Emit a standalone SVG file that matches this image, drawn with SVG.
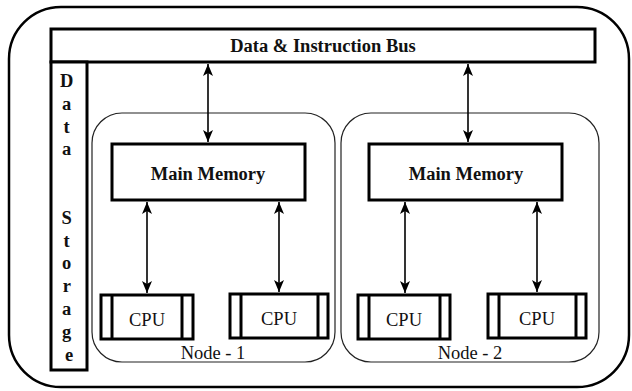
<svg xmlns="http://www.w3.org/2000/svg" width="632" height="391" viewBox="0 0 632 391">
  <style>
    .thick { fill: #fff; stroke: #000; stroke-width: 3; }
    .node { fill: #fff; stroke: #222; stroke-width: 1.2; }
    .band { fill: none; stroke: #000; stroke-width: 3; }
    .lbl { font-family: 'Liberation Serif', 'DejaVu Serif', serif; font-size: 18.5px; fill: #111; text-anchor: middle; }
    .b { font-weight: bold; }
    .link { stroke: #000; stroke-width: 1.6; fill: none; marker-start: url(#ah); marker-end: url(#ah); }
  </style>
  <defs>
    <marker id="ah" viewBox="0 0 12 10" refX="12" refY="5" markerWidth="12" markerHeight="10" markerUnits="userSpaceOnUse" orient="auto-start-reverse">
      <path d="M0,0 L12,5 L0,10 L3,5 Z" fill="#000"/>
    </marker>
  </defs>
  <rect width="632" height="391" fill="#fff"/>

  <!-- enclosing system boundary -->
  <rect id="system" x="9" y="7" width="620" height="380" rx="52" ry="52" fill="none" stroke="#000" stroke-width="2.5"/>

  <g id="bus">
    <rect class="thick" x="51" y="29" width="544" height="33"/>
    <text class="lbl b" x="323" y="52">Data &amp; Instruction Bus</text>
  </g>

  <g id="storage">
    <rect class="thick" x="51" y="62" width="36" height="308"/>
    <text class="lbl b">
      <tspan x="69" y="87">D</tspan>
      <tspan x="69" y="109.8">a</tspan>
      <tspan x="69" y="132.6">t</tspan>
      <tspan x="69" y="155.4">a</tspan>
      <tspan x="69" y="223.8">S</tspan>
      <tspan x="69" y="246.6">t</tspan>
      <tspan x="69" y="269.4">o</tspan>
      <tspan x="69" y="292.2">r</tspan>
      <tspan x="69" y="315">a</tspan>
      <tspan x="69" y="337.8">g</tspan>
      <tspan x="69" y="360.6">e</tspan>
    </text>
  </g>

  <g id="node1">
    <rect class="node" x="92" y="113" width="243" height="249" rx="30" ry="30"/>
    <text class="lbl" x="213" y="359">Node - 1</text>
  </g>
  <g id="node2">
    <rect class="node" x="341" y="113" width="258" height="249" rx="30" ry="30"/>
    <text class="lbl" x="470" y="359">Node - 2</text>
  </g>

  <g id="mem1">
    <rect class="thick" x="112" y="144" width="193" height="56"/>
    <text class="lbl b" x="208" y="180">Main Memory</text>
  </g>
  <g id="mem2">
    <rect class="thick" x="369" y="144" width="193" height="56"/>
    <text class="lbl b" x="466" y="180">Main Memory</text>
  </g>

  <g id="cpu1a">
    <rect class="thick" x="101" y="295" width="92" height="44"/>
    <line class="band" x1="112" y1="295" x2="112" y2="339"/>
    <line class="band" x1="182" y1="295" x2="182" y2="339"/>
    <text class="lbl" x="147" y="326">CPU</text>
  </g>
  <g id="cpu1b">
    <rect class="thick" x="230" y="294" width="98" height="44"/>
    <line class="band" x1="241" y1="294" x2="241" y2="338"/>
    <line class="band" x1="318" y1="294" x2="318" y2="338"/>
    <text class="lbl" x="279" y="325">CPU</text>
  </g>
  <g id="cpu2a">
    <rect class="thick" x="358" y="295" width="92" height="44"/>
    <line class="band" x1="369" y1="295" x2="369" y2="339"/>
    <line class="band" x1="440" y1="295" x2="440" y2="339"/>
    <text class="lbl" x="404" y="326">CPU</text>
  </g>
  <g id="cpu2b">
    <rect class="thick" x="488" y="294" width="98" height="44"/>
    <line class="band" x1="499" y1="294" x2="499" y2="338"/>
    <line class="band" x1="576" y1="294" x2="576" y2="338"/>
    <text class="lbl" x="537" y="325">CPU</text>
  </g>

  <g id="connectors">
    <line class="link" x1="208" y1="64" x2="208" y2="142"/>
    <line class="link" x1="468" y1="64" x2="468" y2="142"/>
    <line class="link" x1="147" y1="202" x2="147" y2="293"/>
    <line class="link" x1="279" y1="202" x2="279" y2="292"/>
    <line class="link" x1="405" y1="202" x2="405" y2="293"/>
    <line class="link" x1="537" y1="202" x2="537" y2="292"/>
  </g>
</svg>
